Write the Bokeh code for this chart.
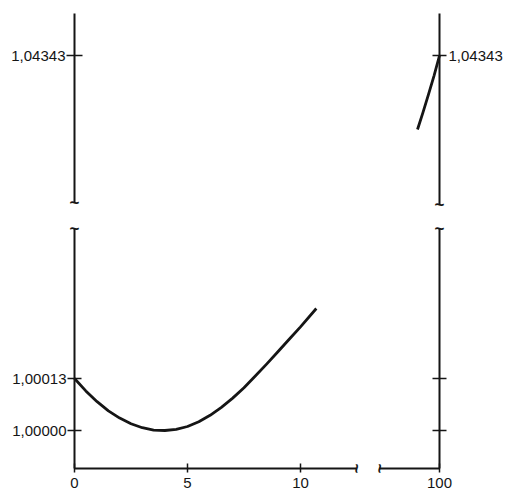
import math
from bokeh.plotting import figure
from bokeh.models import (Range1d, FixedTicker, CustomJSTickFormatter, Label,
                          LinearAxis)
from bokeh.embed import file_html
from bokeh.resources import INLINE

# ---- data ----
t_low = [0, 0.5, 1, 1.5, 2, 2.5, 3, 3.5, 4, 4.5, 5, 5.5, 6, 6.5, 7, 7.5,
         8, 8.5, 9, 9.5, 10, 10.7]
v_low = [1.000130, 1.000099, 1.000072, 1.000049, 1.000031, 1.000017,
         1.000007, 1.000001, 1.000000, 1.000003, 1.000010, 1.000022,
         1.000038, 1.000058, 1.000081, 1.000107, 1.000136, 1.000166,
         1.000197, 1.000228, 1.000259, 1.000305]
t_high = [96, 97, 98, 99, 100]
v_high = [1.04033, 1.04105, 1.04180, 1.04258, 1.04343]
x_ticks_low = [0, 5, 10]
x_ticks_high = [100]
y_ticks_low = [1.0, 1.00013]
y_ticks_high = [1.04343]

# ---- geometry (page pixels, origin top-left) ----
W, H = 507, 491
X0 = 74          # pixel of 0 degrees (left axis)
XR = 439         # pixel of 100 degrees (right axis)
KX_LO = 22.6     # px per degree, left part
KX_HI = 5.5      # px per degree, right part
KY_LO = 400000.0 # px per unit, lower part
KY_HI = 23870.0  # px per unit, upper part
Y_REF_LO = 430   # pixel of 1.00000
Y_REF_HI = 55    # pixel of 1.04343
Y_AX = 468       # pixel of x axis line

def xlo(px):
    return (px - X0) / KX_LO

def xhi(px):
    return 100 + (px - XR) / KX_HI

def ylo(py):
    return 1.0 + (Y_REF_LO - py) / KY_LO

def yhi(py):
    return 1.04343 + (Y_REF_HI - py) / KY_HI

FONT = "Liberation Sans"
INK = "#151515"

p = figure(width=W, height=H, x_range=Range1d(xlo(0), xlo(W)),
           y_range=Range1d(ylo(H), ylo(0)),
           x_axis_location=None, y_axis_location=None,
           output_backend="svg", toolbar_location=None, min_border=0)
p.extra_x_ranges = {"hi": Range1d(xhi(0), xhi(W))}
p.extra_y_ranges = {"hi": Range1d(yhi(H), yhi(0))}
p.grid.visible = False
p.outline_line_color = None
p.background_fill_color = "white"
p.border_fill_color = "white"

fmt = CustomJSTickFormatter(code="return tick.toFixed(5).replace('.', ',');")

def add_axis(side, ticks, loc, bounds, tin, tout, standoff, xr="default",
             yr="default", labels=True, formatter=None):
    ax = LinearAxis(x_range_name=xr, y_range_name=yr, fixed_location=loc,
                    ticker=FixedTicker(ticks=ticks), bounds=bounds)
    if formatter is not None:
        ax.formatter = formatter
    ax.axis_line_color = INK
    ax.axis_line_width = 2
    ax.major_tick_line_color = INK
    ax.major_tick_line_width = 1.5
    ax.major_tick_in = tin
    ax.major_tick_out = tout
    ax.minor_tick_line_color = None
    ax.major_label_standoff = standoff
    ax.major_label_text_font = FONT
    ax.major_label_text_font_size = "15px"
    ax.major_label_text_color = INK
    if not labels:
        ax.major_label_text_alpha = 0
    p.add_layout(ax, side)

# left axis, lower and upper parts
add_axis("left", y_ticks_low, 0, (ylo(Y_AX), ylo(228)), 7, 7, 1, formatter=fmt)
add_axis("left", y_ticks_high, 0, (yhi(202), yhi(13)), 8, 8, 1, yr="hi",
         formatter=fmt)
# right axis, lower and upper parts
add_axis("right", y_ticks_low, 100, (ylo(Y_AX), ylo(228)), 7, 7, 2, xr="hi",
         labels=False, formatter=fmt)
add_axis("right", y_ticks_high, 100, (yhi(204), yhi(13)), 7, 7, 2, xr="hi",
         yr="hi", formatter=fmt)
# bottom axis, left and right parts
add_axis("below", x_ticks_low, ylo(Y_AX), (0, xlo(356)), 5, 4, 5)
add_axis("below", x_ticks_high, ylo(Y_AX), (xhi(379), 100), 5, 4, 5, xr="hi")

# curves
p.line(t_low, v_low, line_color=INK, line_width=2.8, line_join="round")
p.line(t_high, v_high, line_color=INK, line_width=2.8, line_join="round",
       x_range_name="hi", y_range_name="hi")

def squiggle(x, y, angle=0.0, xr="default", yr="default"):
    p.add_layout(Label(x=x, y=y, text="~", angle=angle, text_align="center",
                       text_baseline="middle", text_font=FONT,
                       text_font_style="bold", text_font_size="17px",
                       text_color=INK, x_range_name=xr, y_range_name=yr))

squiggle(0, yhi(202), yr="hi")
squiggle(0, ylo(228))
squiggle(100, yhi(204), xr="hi", yr="hi")
squiggle(100, ylo(228), xr="hi")
squiggle(xlo(356), ylo(Y_AX), math.pi / 2)
squiggle(xhi(379), ylo(Y_AX), math.pi / 2, xr="hi")

open("out.html", "w").write(file_html(p, INLINE))
